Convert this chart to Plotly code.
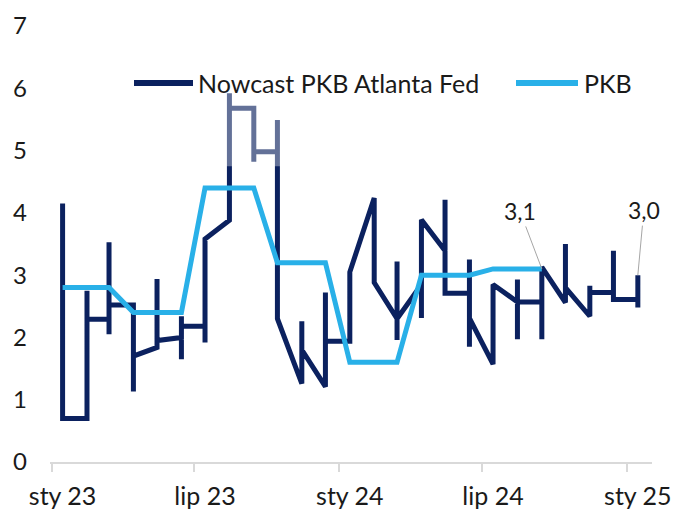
import plotly.graph_objects as go

# ---- data ----
months = ["2023-01-15", "2023-02-15", "2023-03-15", "2023-04-15", "2023-05-15", "2023-06-15",
          "2023-07-15", "2023-08-15", "2023-09-15", "2023-10-15", "2023-11-15", "2023-12-15",
          "2024-01-15", "2024-02-15", "2024-03-15", "2024-04-15", "2024-05-15", "2024-06-15",
          "2024-07-15", "2024-08-15", "2024-09-15", "2024-10-15", "2024-11-15", "2024-12-15",
          "2025-01-15"]

# Atlanta Fed GDPNow path within each month (successive readings on the same date)
nowcast_by_month = [
    [4.15, 0.70],
    [0.70, 2.75, 2.29],
    [2.29, 3.53, 2.05, 2.52],
    [2.52, 1.13, 1.70],
    [1.84, 2.94, 1.95],
    [2.00, 2.34, 1.65, 2.18],
    [2.18, 1.92, 3.58],
    [3.88, 5.92, 5.68],
    [5.68, 4.82, 4.98],
    [4.98, 5.49, 2.30],
    [1.26, 2.26, 1.80],
    [1.21, 2.72, 1.94],
    [1.94, 3.05],
    [4.24, 2.88],
    [2.30, 3.22, 1.96, 2.30],
    [2.85, 2.31, 3.89],
    [3.39, 4.21, 2.71],
    [2.71, 3.25, 1.85, 2.31],
    [1.57, 2.85],
    [2.57, 2.93, 1.97, 2.57],
    [2.57, 1.97, 3.13],
    [2.56, 3.50, 2.80],
    [2.34, 2.83, 2.72],
    [2.72, 3.39, 2.61],
    [2.61, 2.48, 3.00],
]

pkb_months = months[:21]
pkb_values = [2.8, 2.8, 2.8, 2.4, 2.4, 2.4, 4.4, 4.4, 4.4, 3.2, 3.2, 3.2,
              1.6, 1.6, 1.6, 3.0, 3.0, 3.0, 3.1, 3.1, 3.1]

tick_vals = ["2023-01-01", "2023-07-01", "2024-01-01", "2024-07-01", "2025-01-01"]
tick_text = ["sty 23", "lip 23", "sty 24", "lip 24", "sty 25"]

series_names = ["Nowcast PKB Atlanta Fed", "PKB"]
label_pkb_last = "3,1"
label_now_last = "3,0"

# ---- build ----
now_x, now_y = [], []
for m, vals in zip(months, nowcast_by_month):
    for v in vals:
        now_x.append(m)
        now_y.append(v)

NAVY = "#0b215f"
LIGHT = "#29b0e8"
FONT = "Lato"
TXT = "#1a1a1a"

fig = go.Figure()
fig.add_trace(go.Scatter(x=now_x, y=now_y, mode="lines", name=series_names[0],
                         line=dict(color=NAVY, width=5), showlegend=False))
fig.add_trace(go.Scatter(x=pkb_months, y=pkb_values, mode="lines", name=series_names[1],
                         line=dict(color=LIGHT, width=5), showlegend=False))

W, H = 675, 511
ml, mr, mt, mb = 50, 23, 26, 49
pw, ph = W - ml - mr, H - mt - mb

def px(xp):
    return (xp - ml) / pw

def py(yp):
    return (H - mb - yp) / ph

shapes = [
    # semi-transparent legend box overlay
    dict(type="rect", xref="paper", yref="y", x0=px(120), x1=px(645), y0=4.75, y1=6.7,
         fillcolor="rgba(255,255,255,0.36)", line=dict(width=0), layer="above"),
    # custom legend samples
    dict(type="line", xref="paper", yref="paper", x0=px(134), x1=px(193), y0=py(83), y1=py(83),
         line=dict(color=NAVY, width=6), layer="above"),
    dict(type="line", xref="paper", yref="paper", x0=px(516), x1=px(578), y0=py(83), y1=py(83),
         line=dict(color=LIGHT, width=6), layer="above"),
]

annotations = [
    dict(xref="paper", yref="paper", x=px(196), y=py(83), text=series_names[0], showarrow=False,
         xanchor="left", yanchor="middle", font=dict(size=25, color=TXT, family=FONT)),
    dict(xref="paper", yref="paper", x=px(582), y=py(83), text=series_names[1], showarrow=False,
         xanchor="left", yanchor="middle", font=dict(size=25, color=TXT, family=FONT)),
    dict(x=pkb_months[-1], y=pkb_values[-1], text=label_pkb_last, showarrow=True, arrowhead=0,
         arrowwidth=1, arrowcolor="#a6a6a6", ax=-22, ay=-58,
         font=dict(size=23, color=TXT, family=FONT)),
    dict(x=months[-1], y=nowcast_by_month[-1][-1], text=label_now_last, showarrow=True, arrowhead=0,
         arrowwidth=1, arrowcolor="#a6a6a6", ax=6, ay=-65,
         font=dict(size=23, color=TXT, family=FONT)),
]

fig.update_layout(
    width=W, height=H,
    margin=dict(l=ml, r=mr, t=mt, b=mb, autoexpand=False),
    paper_bgcolor="white", plot_bgcolor="white",
    font=dict(family=FONT, size=24, color=TXT),
    shapes=shapes, annotations=annotations,
    showlegend=False,
)
fig.update_xaxes(type="date", range=["2022-12-30", "2025-02-02"], automargin=False,
                 tickvals=tick_vals, ticktext=tick_text,
                 showgrid=False, zeroline=False, showline=True, linecolor="#d9d9d9", linewidth=1.5,
                 ticks="outside", ticklen=8, tickcolor="#d9d9d9", tickwidth=1.5,
                 ticklabelshift=11, ticklabelstandoff=3,
                 tickfont=dict(size=25))
fig.update_yaxes(range=[0, 7], tickvals=[0, 1, 2, 3, 4, 5, 6, 7], automargin=False,
                 showgrid=False, zeroline=False, showline=False, ticks="",
                 ticklabelstandoff=22, tickfont=dict(size=24))

fig.write_html("out.html", config={"displayModeBar": False},
               post_script="document.body.style.margin='0';")
